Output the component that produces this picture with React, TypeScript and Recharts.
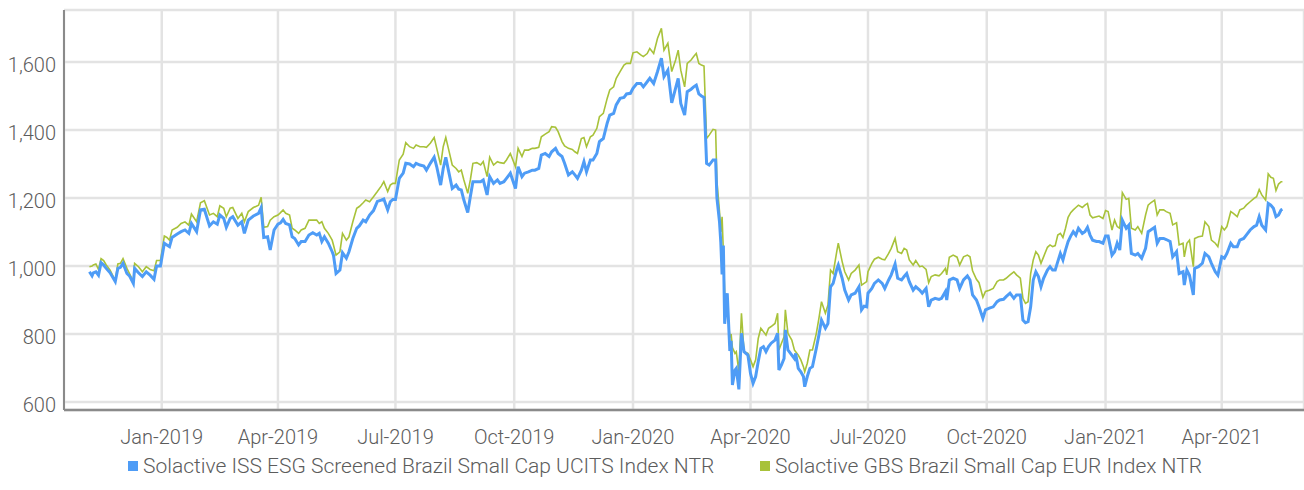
import React from 'react';
import { LineChart, Line, XAxis, YAxis, CartesianGrid } from 'recharts';

const dates = [
  '2018-11-06', '2018-11-08', '2018-11-09', '2018-11-11', '2018-11-13', '2018-11-15', '2018-11-17', '2018-11-19',
  '2018-11-22', '2018-11-26', '2018-11-28', '2018-11-30', '2018-12-02', '2018-12-05', '2018-12-07', '2018-12-10',
  '2018-12-11', '2018-12-14', '2018-12-17', '2018-12-20', '2018-12-23', '2018-12-26', '2018-12-28', '2018-12-31',
  '2019-01-03', '2019-01-05', '2019-01-07', '2019-01-09', '2019-01-13', '2019-01-16', '2019-01-19', '2019-01-22',
  '2019-01-24', '2019-01-28', '2019-01-31', '2019-02-03', '2019-02-07', '2019-02-10', '2019-02-13', '2019-02-15',
  '2019-02-18', '2019-02-20', '2019-02-23', '2019-02-25', '2019-03-01', '2019-03-04', '2019-03-06', '2019-03-09',
  '2019-03-13', '2019-03-17', '2019-03-19', '2019-03-21', '2019-03-24', '2019-03-26', '2019-03-29', '2019-04-01',
  '2019-04-03', '2019-04-05', '2019-04-07', '2019-04-10', '2019-04-12', '2019-04-14', '2019-04-17', '2019-04-19',
  '2019-04-22', '2019-04-25', '2019-04-28', '2019-05-01', '2019-05-03', '2019-05-05', '2019-05-07', '2019-05-10',
  '2019-05-13', '2019-05-14', '2019-05-16', '2019-05-19', '2019-05-21', '2019-05-24', '2019-05-26', '2019-05-29',
  '2019-06-01', '2019-06-03', '2019-06-06', '2019-06-08', '2019-06-11', '2019-06-14', '2019-06-17', '2019-06-20',
  '2019-06-22', '2019-06-25', '2019-06-27', '2019-06-29', '2019-07-01', '2019-07-04', '2019-07-07', '2019-07-09',
  '2019-07-12', '2019-07-15', '2019-07-17', '2019-07-20', '2019-07-23', '2019-07-25', '2019-07-28', '2019-07-31',
  '2019-08-02', '2019-08-05', '2019-08-07', '2019-08-09', '2019-08-11', '2019-08-14', '2019-08-17', '2019-08-19',
  '2019-08-21', '2019-08-23', '2019-08-26', '2019-08-28', '2019-08-30', '2019-09-02', '2019-09-05', '2019-09-07',
  '2019-09-10', '2019-09-12', '2019-09-15', '2019-09-18', '2019-09-20', '2019-09-23', '2019-09-25', '2019-09-28',
  '2019-10-02', '2019-10-04', '2019-10-07', '2019-10-09', '2019-10-12', '2019-10-15', '2019-10-17', '2019-10-20',
  '2019-10-22', '2019-10-25', '2019-10-28', '2019-10-30', '2019-11-02', '2019-11-04', '2019-11-07', '2019-11-09',
  '2019-11-12', '2019-11-15', '2019-11-17', '2019-11-19', '2019-11-22', '2019-11-24', '2019-11-26', '2019-11-29',
  '2019-12-01', '2019-12-04', '2019-12-06', '2019-12-09', '2019-12-12', '2019-12-14', '2019-12-17', '2019-12-19',
  '2019-12-22', '2019-12-25', '2019-12-27', '2019-12-30', '2020-01-01', '2020-01-04', '2020-01-07', '2020-01-09',
  '2020-01-12', '2020-01-14', '2020-01-17', '2020-01-20', '2020-01-23', '2020-01-25', '2020-01-28', '2020-01-31',
  '2020-02-03', '2020-02-05', '2020-02-07', '2020-02-10', '2020-02-12', '2020-02-15', '2020-02-17', '2020-02-19',
  '2020-02-21', '2020-02-23', '2020-02-25', '2020-02-27', '2020-02-29', '2020-03-03', '2020-03-05', '2020-03-06',
  '2020-03-08', '2020-03-09', '2020-03-10', '2020-03-11', '2020-03-12', '2020-03-14', '2020-03-16', '2020-03-17',
  '2020-03-18', '2020-03-20', '2020-03-21', '2020-03-23', '2020-03-25', '2020-03-27', '2020-03-30', '2020-04-01',
  '2020-04-03', '2020-04-05', '2020-04-07', '2020-04-09', '2020-04-11', '2020-04-13', '2020-04-15', '2020-04-17',
  '2020-04-20', '2020-04-22', '2020-04-23', '2020-04-25', '2020-04-27', '2020-04-28', '2020-04-30', '2020-05-03',
  '2020-05-05', '2020-05-06', '2020-05-08', '2020-05-10', '2020-05-12', '2020-05-13', '2020-05-15', '2020-05-17',
  '2020-05-19', '2020-05-22', '2020-05-24', '2020-05-26', '2020-05-29', '2020-05-31', '2020-06-02', '2020-06-04',
  '2020-06-07', '2020-06-08', '2020-06-11', '2020-06-13', '2020-06-16', '2020-06-18', '2020-06-21', '2020-06-24',
  '2020-06-26', '2020-06-28', '2020-06-30', '2020-07-01', '2020-07-04', '2020-07-06', '2020-07-09', '2020-07-12',
  '2020-07-14', '2020-07-17', '2020-07-19', '2020-07-22', '2020-07-24', '2020-07-27', '2020-07-29', '2020-07-31',
  '2020-08-02', '2020-08-05', '2020-08-07', '2020-08-10', '2020-08-12', '2020-08-15', '2020-08-17', '2020-08-19',
  '2020-08-22', '2020-08-25', '2020-08-27', '2020-08-30', '2020-08-31', '2020-09-02', '2020-09-05', '2020-09-08',
  '2020-09-10', '2020-09-13', '2020-09-16', '2020-09-18', '2020-09-20', '2020-09-23', '2020-09-25', '2020-09-28',
  '2020-09-30', '2020-10-03', '2020-10-06', '2020-10-09', '2020-10-11', '2020-10-14', '2020-10-16', '2020-10-19',
  '2020-10-22', '2020-10-24', '2020-10-27', '2020-10-29', '2020-10-31', '2020-11-02', '2020-11-04', '2020-11-06',
  '2020-11-08', '2020-11-10', '2020-11-12', '2020-11-14', '2020-11-17', '2020-11-19', '2020-11-21', '2020-11-23',
  '2020-11-25', '2020-11-27', '2020-11-29', '2020-12-01', '2020-12-03', '2020-12-05', '2020-12-07', '2020-12-09',
  '2020-12-11', '2020-12-14', '2020-12-16', '2020-12-18', '2020-12-20', '2020-12-22', '2020-12-25', '2020-12-27',
  '2020-12-30', '2021-01-01', '2021-01-03', '2021-01-06', '2021-01-08', '2021-01-10', '2021-01-12', '2021-01-14',
  '2021-01-17', '2021-01-19', '2021-01-21', '2021-01-24', '2021-01-26', '2021-01-29', '2021-02-01', '2021-02-03',
  '2021-02-05', '2021-02-08', '2021-02-10', '2021-02-12', '2021-02-15', '2021-02-17', '2021-02-20', '2021-02-22',
  '2021-02-25', '2021-02-27', '2021-03-02', '2021-03-03', '2021-03-05', '2021-03-07', '2021-03-10', '2021-03-11',
  '2021-03-14', '2021-03-17', '2021-03-19', '2021-03-22', '2021-03-24', '2021-03-27', '2021-03-29', '2021-04-01',
  '2021-04-03', '2021-04-05', '2021-04-08', '2021-04-10', '2021-04-13', '2021-04-15', '2021-04-18', '2021-04-20',
  '2021-04-23', '2021-04-26', '2021-04-28', '2021-04-30', '2021-05-02', '2021-05-05', '2021-05-07', '2021-05-09',
  '2021-05-11', '2021-05-13', '2021-05-15', '2021-05-17', '2021-05-18',
];

// Solactive ISS ESG Screened Brazil Small Cap UCITS Index NTR
const esgValues = [
  983, 971, 980, 983, 973, 1010, 1003, 993, 980, 954, 993, 996, 1008, 978, 971, 949,
  993, 980, 969, 983, 973, 961, 1000, 1000, 1067, 1062, 1057, 1084, 1094, 1101, 1106, 1096,
  1125, 1101, 1165, 1167, 1118, 1130, 1123, 1150, 1140, 1114, 1140, 1145, 1120, 1130, 1096, 1135,
  1147, 1155, 1172, 1084, 1086, 1047, 1106, 1123, 1127, 1137, 1125, 1121, 1086, 1081, 1062, 1072,
  1072, 1091, 1098, 1091, 1096, 1072, 1086, 1067, 1042, 1032, 978, 988, 1039, 1023, 1042, 1081,
  1111, 1118, 1135, 1130, 1150, 1163, 1190, 1194, 1197, 1165, 1189, 1196, 1196, 1258, 1273, 1302,
  1300, 1292, 1302, 1297, 1294, 1282, 1302, 1320, 1292, 1238, 1287, 1320, 1282, 1228, 1238, 1226,
  1224, 1194, 1157, 1204, 1248, 1248, 1248, 1253, 1209, 1263, 1243, 1253, 1243, 1248, 1258, 1273,
  1228, 1292, 1263, 1273, 1277, 1282, 1282, 1287, 1326, 1331, 1322, 1336, 1346, 1331, 1322, 1302,
  1268, 1277, 1268, 1258, 1282, 1307, 1277, 1312, 1312, 1331, 1366, 1375, 1420, 1444, 1449, 1474,
  1493, 1496, 1506, 1508, 1523, 1537, 1537, 1527, 1542, 1552, 1537, 1572, 1611, 1557, 1576, 1480,
  1523, 1552, 1478, 1444, 1513, 1520, 1527, 1532, 1506, 1500, 1496, 1302, 1297, 1312, 1312, 1200,
  1130, 1070, 975, 1060, 830, 920, 750, 780, 650, 694, 699, 637, 802, 748, 738, 684,
  655, 675, 719, 758, 763, 748, 763, 773, 782, 802, 694, 709, 728, 812, 753, 738,
  728, 743, 699, 689, 675, 645, 675, 699, 704, 758, 797, 841, 817, 831, 939, 949,
  993, 1003, 964, 929, 900, 915, 920, 939, 871, 882, 880, 920, 934, 949, 959, 949,
  934, 959, 974, 1006, 964, 959, 969, 978, 954, 929, 939, 929, 920, 934, 880, 900,
  905, 902, 905, 925, 900, 959, 964, 959, 934, 959, 971, 959, 915, 900, 880, 846,
  871, 876, 880, 895, 900, 902, 910, 920, 905, 915, 915, 841, 833, 836, 880, 959,
  983, 969, 939, 964, 988, 998, 988, 988, 1013, 1037, 1018, 1047, 1072, 1088, 1101, 1091,
  1111, 1096, 1101, 1114, 1091, 1076, 1072, 1072, 1067, 1088, 1088, 1032, 1042, 1067, 1047, 1135,
  1111, 1120, 1037, 1032, 1037, 1023, 1052, 1101, 1106, 1114, 1067, 1081, 1081, 1078, 1072, 1027,
  1042, 978, 983, 944, 988, 973, 915, 993, 998, 1008, 1037, 1027, 1008, 983, 973, 1027,
  1023, 1037, 1067, 1057, 1057, 1076, 1081, 1091, 1106, 1116, 1120, 1145, 1120, 1106, 1184, 1179,
  1170, 1145, 1150, 1165, 1167,
];

// Solactive GBS Brazil Small Cap EUR Index NTR
const gbsValues = [
  998, 1000, 1003, 1006, 990, 1022, 1016, 1003, 988, 957, 1006, 1008, 1022, 993, 978, 954,
  1008, 998, 983, 998, 990, 986, 1016, 1016, 1088, 1084, 1076, 1106, 1114, 1125, 1130, 1120,
  1153, 1130, 1186, 1192, 1150, 1155, 1145, 1177, 1170, 1145, 1170, 1172, 1140, 1155, 1130, 1160,
  1172, 1179, 1202, 1114, 1116, 1135, 1145, 1150, 1157, 1165, 1155, 1150, 1111, 1106, 1096, 1106,
  1111, 1135, 1135, 1135, 1125, 1130, 1111, 1096, 1076, 1062, 1032, 1042, 1096, 1076, 1086, 1130,
  1170, 1175, 1186, 1194, 1189, 1204, 1219, 1235, 1248, 1219, 1238, 1243, 1243, 1312, 1329, 1363,
  1351, 1346, 1356, 1351, 1351, 1349, 1361, 1378, 1346, 1297, 1351, 1378, 1346, 1297, 1287, 1277,
  1282, 1253, 1214, 1253, 1302, 1304, 1297, 1307, 1263, 1320, 1297, 1307, 1304, 1302, 1312, 1331,
  1292, 1346, 1322, 1341, 1341, 1346, 1346, 1349, 1380, 1388, 1395, 1410, 1408, 1395, 1366, 1353,
  1346, 1343, 1336, 1331, 1375, 1378, 1351, 1380, 1385, 1405, 1439, 1449, 1493, 1518, 1527, 1552,
  1572, 1591, 1596, 1596, 1627, 1630, 1621, 1616, 1625, 1640, 1625, 1670, 1699, 1635, 1655, 1572,
  1606, 1635, 1576, 1527, 1596, 1606, 1616, 1625, 1596, 1591, 1588, 1375, 1385, 1402, 1400, 1250,
  1160, 1100, 1145, 1040, 920, 880, 790, 800, 760, 743, 748, 689, 861, 748, 743, 724,
  704, 724, 787, 817, 807, 797, 817, 822, 831, 861, 753, 773, 792, 871, 802, 782,
  753, 748, 738, 724, 704, 689, 714, 753, 753, 802, 846, 895, 861, 885, 988, 978,
  1047, 1067, 1013, 983, 959, 978, 988, 1003, 944, 949, 954, 983, 1008, 1020, 1026, 1020,
  1018, 1037, 1052, 1081, 1042, 1037, 1052, 1047, 1018, 1003, 1016, 998, 1000, 990, 951, 969,
  974, 971, 978, 993, 974, 1026, 1032, 1026, 1003, 1027, 1032, 1027, 986, 961, 951, 908,
  925, 929, 934, 954, 959, 959, 964, 974, 983, 974, 964, 905, 890, 895, 978, 1018,
  1042, 1032, 1008, 1027, 1055, 1062, 1057, 1060, 1091, 1096, 1084, 1111, 1143, 1157, 1165, 1172,
  1179, 1172, 1179, 1184, 1150, 1142, 1145, 1147, 1140, 1163, 1160, 1106, 1135, 1116, 1111, 1216,
  1196, 1199, 1111, 1106, 1116, 1096, 1150, 1179, 1186, 1194, 1150, 1165, 1165, 1160, 1155, 1121,
  1127, 1062, 1067, 1027, 1067, 1076, 998, 1081, 1086, 1088, 1130, 1116, 1076, 1067, 1057, 1116,
  1106, 1116, 1160, 1155, 1145, 1165, 1170, 1179, 1189, 1199, 1204, 1225, 1209, 1194, 1271, 1261,
  1258, 1222, 1241, 1248, 1248,
];

const xTicks = [
  '2019-01-01', '2019-04-01', '2019-07-01', '2019-10-01', '2020-01-01',
  '2020-04-01', '2020-07-01', '2020-10-01', '2021-01-01', '2021-04-01',
];
const yTicks = [600, 800, 1000, 1200, 1400, 1600];
const monthNames = ['Jan', 'Feb', 'Mar', 'Apr', 'May', 'Jun', 'Jul', 'Aug', 'Sep', 'Oct', 'Nov', 'Dec'];

const seriesNames = {
  esg: 'Solactive ISS ESG Screened Brazil Small Cap UCITS Index NTR',
  gbs: 'Solactive GBS Brazil Small Cap EUR Index NTR',
};

const toTime = (d: string) => Date.parse(d + 'T00:00:00Z');

const data = dates.map((d, i) => ({ t: toTime(d), esg: esgValues[i], gbs: gbsValues[i] }));

const BLUE = '#4e9cf6';
const GREEN = '#a8c23a';
const FONT = 'Roboto, "Noto Sans", sans-serif';
const TEXT = '#5c5c5c';

const formatDate = (v: number) => {
  const d = new Date(v);
  return `${monthNames[d.getUTCMonth()]}-${d.getUTCFullYear()}`;
};

const legendStyle: React.CSSProperties = {
  position: 'absolute',
  top: 454,
  display: 'flex',
  alignItems: 'center',
  color: TEXT,
  fontSize: 21,
  fontWeight: 300,
  whiteSpace: 'nowrap',
};

const App = () => {
  return (
    <div style={{ position: 'relative', width: 1304, height: 490, background: '#fff', fontFamily: FONT }}>
      <style>{'body { margin: 0; }'}</style>
      <LineChart width={1304} height={490} data={data} margin={{ top: 10, right: 0, left: 0, bottom: 40 }}>
        <CartesianGrid stroke="#e3e3e3" strokeWidth={2.5} vertical={true} horizontal={true} />
        <XAxis
          dataKey="t"
          type="number"
          scale="time"
          domain={[Date.UTC(2018, 9, 17, 7), Date.UTC(2021, 5, 3, 17)]}
          ticks={xTicks.map(toTime)}
          tickFormatter={formatDate}
          height={40}
          axisLine={{ stroke: '#8a8a8a', strokeWidth: 2.5 }}
          tickLine={false}
          tickMargin={14}
          tick={{ fill: TEXT, fontSize: 20, fontWeight: 300, fontFamily: FONT }}
        />
        <YAxis
          type="number"
          domain={[576.5, 1753]}
          ticks={yTicks}
          tickFormatter={(v: number) => v.toLocaleString('en-US')}
          width={64}
          axisLine={{ stroke: '#8a8a8a', strokeWidth: 2 }}
          tickLine={false}
          tick={{ fill: TEXT, fontSize: 20, fontWeight: 300, fontFamily: FONT, dy: 3 }}
        />
        <Line type="linear" dataKey="gbs" stroke={GREEN} strokeWidth={1.6} dot={false} isAnimationActive={false} />
        <Line type="linear" dataKey="esg" stroke={BLUE} strokeWidth={3} dot={false} isAnimationActive={false} />
      </LineChart>

      {/* Legend */}
      <div style={{ ...legendStyle, left: 128 }}>
        <span style={{ width: 10, height: 10, background: BLUE, marginRight: 5, display: 'inline-block' }} />
        <span>{seriesNames.esg}</span>
      </div>
      <div style={{ ...legendStyle, left: 760 }}>
        <span style={{ width: 10, height: 10, background: GREEN, marginRight: 5, display: 'inline-block' }} />
        <span>{seriesNames.gbs}</span>
      </div>
    </div>
  );
};

export default App;
